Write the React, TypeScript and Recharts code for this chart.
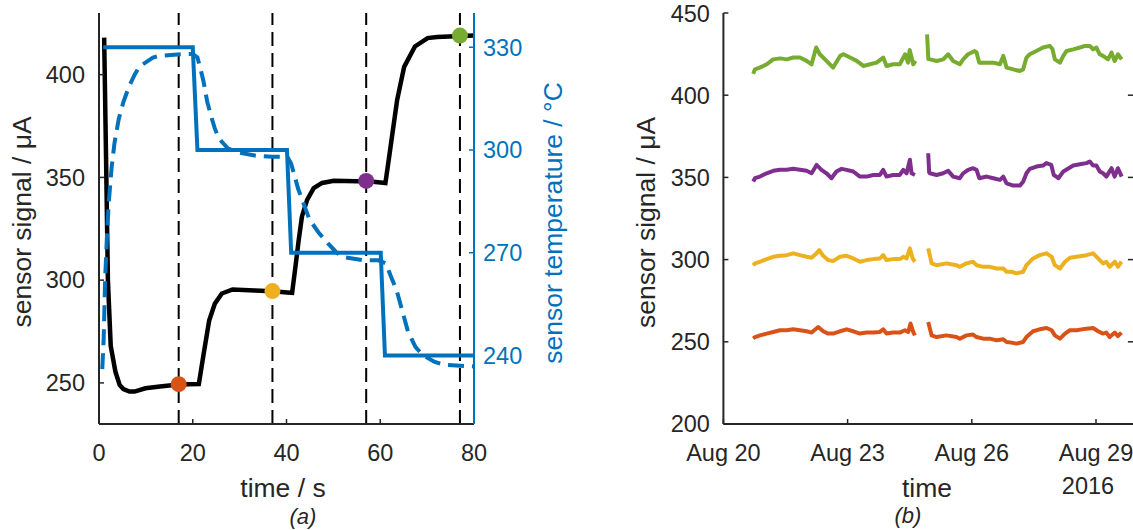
import React from 'react';
import { ComposedChart, Line, XAxis, YAxis, ReferenceLine, Scatter } from 'recharts';

const FONT = '"Liberation Sans", Arial, Helvetica, sans-serif';
const AX = '#262626';
const BLUE = '#0072BD';

// ---------- Panel (a) ----------
const timeTicks = [0, 20, 40, 60, 80];
const timeTopTicks = [20, 40, 60];
const signalTicks = [250, 300, 350, 400];
const tempTicks = [240, 270, 300, 330];

const signalTime = [1.1, 1.5, 1.9, 2.5, 3.5, 4.4, 5.2, 6.5, 7.6, 9.9, 13, 16, 19, 21.3, 22.3, 23.5, 24.7, 26.2, 28.5, 33.2, 37, 40.2, 41.2, 41.9, 42.6, 43.3, 44.4, 45.8, 47.6, 50.1, 55.1, 58, 61.1, 61.8, 62.6, 63.6, 65.1, 67.4, 70.1, 72.1, 76, 79.9];
const signalValues = [418, 360, 300, 268, 255.5, 249, 247, 245.8, 245.8, 247.4, 248.3, 249, 249.4, 249.5, 263.8, 280.3, 288.5, 293.5, 295.5, 295, 294.6, 294, 293.8, 306.4, 319.4, 331, 339.1, 344.8, 347.3, 348.4, 348.1, 348, 347.3, 358.4, 371.4, 387.6, 403.8, 413.7, 417.8, 418.3, 418.7, 419];

const setpointTime = [0.9, 20, 21, 40.1, 41, 60.1, 61, 80];
const setpointTemp = [330, 330, 300, 300, 270, 270, 240, 240];

const measuredTime = [0.7, 1.0, 1.3, 1.7, 2.1, 2.7, 3.3, 4.2, 5.2, 6.4, 7.6, 8.7, 9.9, 11.5, 13, 17.7, 20, 21, 21.6, 22.3, 23.1, 24, 24.7, 25.4, 26.2, 27.5, 29.3, 33.2, 37, 40.2, 41, 42.5, 44.9, 46.8, 48.8, 50.5, 51.9, 56.5, 59.6, 61.2, 62.3, 63.5, 65.9, 67.5, 69, 71.5, 73.6, 79.9];
const measuredTemp = [236, 245, 262, 275, 285, 295, 302, 309, 314, 318.5, 322, 324.5, 325.5, 327, 327.5, 328, 328, 327, 324, 320, 314, 309.5, 306.3, 304, 302.4, 300.5, 299.4, 298.4, 298, 298, 296, 288.6, 279.7, 276, 272.8, 270.3, 268.8, 267.8, 267.8, 266.9, 263, 259, 247.1, 242.5, 240.2, 238.2, 237.3, 236.8];

const markerTimes = [17, 37, 57, 77];
const markerSignals = [249.4, 294.7, 348.3, 419];
const markerColors = ['#D95319', '#EDB120', '#7E2F8E', '#77AC30'];

// ---------- Panel (b) ----------
const dayTicks = [0, 3, 6, 9];
const dayTickLabels = ['Aug 20', 'Aug 23', 'Aug 26', 'Aug 29'];
const dayTopTicks = [3, 6, 9];
const longSignalTicks = [200, 250, 300, 350, 400, 450];
const longSignalRightTicks = [250, 300, 350, 400];

type Pt = [number, number | null];

const greenTrace: Pt[] = [[0.72, 413], [0.76, 415.7], [0.88, 416.8], [1.05, 418.8], [1.2, 421.8], [1.37, 422.4], [1.53, 421.8], [1.69, 422.9], [1.85, 422.9], [2.01, 420.9], [2.13, 418.8], [2.24, 429], [2.33, 424.9], [2.49, 420.9], [2.65, 416.8], [2.82, 423.9], [2.9, 424.9], [3.06, 422.9], [3.22, 420.9], [3.38, 417.8], [3.54, 418.8], [3.7, 419.8], [3.86, 422.9], [3.94, 417.8], [4.1, 418.8], [4.26, 418.8], [4.39, 424.9], [4.46, 419.8], [4.5, 427.5], [4.585, 418.8], [4.64, 420.9], [4.78, null], [4.92, 437], [4.95, 422], [4.99, 421.8], [5.15, 420.8], [5.31, 421.8], [5.43, 424.9], [5.55, 420.8], [5.71, 418.8], [5.79, 421.8], [5.91, 424.9], [6.07, 426.9], [6.115, 425.9], [6.18, 419.8], [6.36, 419.8], [6.52, 419.8], [6.68, 418.8], [6.76, 423.9], [6.84, 416.8], [7.0, 415.7], [7.16, 414.7], [7.24, 415.7], [7.32, 422.9], [7.4, 424.9], [7.56, 426.9], [7.72, 429], [7.885, 430], [7.95, 427.9], [8.006, 421.8], [8.13, 419.8], [8.21, 423.9], [8.29, 426.9], [8.45, 427.9], [8.61, 429], [8.73, 430], [8.85, 430], [8.93, 427.9], [9.01, 429], [9.09, 424.9], [9.17, 423.9], [9.29, 421.8], [9.375, 425.9], [9.45, 420.8], [9.53, 424.9], [9.62, 421.8]];

const purpleTrace: Pt[] = [[0.72, 347.5], [0.763, 349.5], [0.884, 350.5], [1.045, 352.5], [1.205, 354], [1.366, 354.6], [1.528, 354.6], [1.688, 355.2], [1.849, 354.6], [2.01, 354], [2.13, 352.5], [2.25, 357.6], [2.37, 354.6], [2.49, 352.5], [2.61, 349.5], [2.73, 353.6], [2.855, 355.2], [2.976, 354.6], [3.137, 353.6], [3.298, 350.5], [3.459, 350.5], [3.62, 351.5], [3.78, 351.5], [3.86, 354.6], [3.94, 350.5], [4.1, 351.5], [4.26, 351.5], [4.345, 354.6], [4.425, 352.5], [4.505, 360.7], [4.545, 352.5], [4.626, 351.5], [4.78, null], [4.947, 364.7], [4.97, 353], [4.988, 352.5], [5.149, 351.5], [5.31, 352.5], [5.43, 354], [5.55, 350.5], [5.71, 349.5], [5.79, 352.5], [5.91, 354.6], [6.03, 355.6], [6.115, 354.6], [6.18, 349.5], [6.36, 350.5], [6.52, 349.5], [6.68, 348.5], [6.76, 350.5], [6.84, 346.4], [7.0, 345], [7.16, 345], [7.24, 347.4], [7.32, 352.5], [7.4, 355.2], [7.56, 356.6], [7.72, 357.2], [7.8, 358.7], [7.92, 357.6], [7.98, 351.5], [8.09, 349.5], [8.21, 353.6], [8.29, 354.8], [8.45, 357.2], [8.61, 358], [8.77, 358.7], [8.85, 359.7], [8.93, 357.2], [9.01, 357.2], [9.09, 353.6], [9.17, 352.5], [9.25, 350.5], [9.375, 355.6], [9.45, 350.5], [9.53, 355.6], [9.62, 350.5]];

const yellowTrace: Pt[] = [[0.72, 296.5], [0.763, 297.7], [0.884, 298.7], [1.045, 300.3], [1.205, 301.7], [1.366, 302.3], [1.528, 302.7], [1.688, 303.8], [1.849, 302.7], [2.01, 301.7], [2.13, 301.1], [2.25, 303.8], [2.316, 305.8], [2.41, 302.3], [2.53, 299.7], [2.65, 299.1], [2.815, 301.7], [2.976, 302.3], [3.137, 300.7], [3.298, 298.7], [3.459, 299.7], [3.62, 300.3], [3.78, 300.7], [3.86, 302.7], [3.94, 299.7], [4.1, 300.3], [4.26, 300.3], [4.345, 301.7], [4.425, 300.7], [4.505, 306.8], [4.57, 300.7], [4.626, 298.7], [4.78, null], [4.947, 306.8], [5.03, 297.7], [5.15, 296.6], [5.39, 297.7], [5.63, 296.6], [5.71, 295.6], [5.87, 297.7], [6.03, 298.7], [6.115, 296.6], [6.275, 295.6], [6.436, 295.6], [6.6, 294.6], [6.76, 294.6], [6.84, 292.6], [6.96, 292.6], [7.08, 291.6], [7.24, 292.6], [7.32, 296.6], [7.48, 300.7], [7.64, 302.7], [7.805, 303.8], [7.93, 301.7], [8.006, 296.6], [8.13, 294.6], [8.25, 298.7], [8.37, 301.1], [8.53, 301.7], [8.77, 302.7], [8.93, 303.8], [9.05, 300.7], [9.17, 297.7], [9.25, 298.7], [9.33, 295.6], [9.455, 298.7], [9.53, 295.6], [9.615, 298.7]];

const orangeTrace: Pt[] = [[0.72, 252], [0.763, 252.9], [0.884, 253.9], [1.045, 255], [1.205, 256], [1.366, 257], [1.528, 257], [1.688, 257.6], [1.849, 257], [2.01, 256.4], [2.13, 255.6], [2.29, 259], [2.41, 256.4], [2.53, 255], [2.65, 255], [2.815, 256.4], [2.976, 257.6], [3.137, 256.4], [3.298, 255], [3.459, 255.6], [3.62, 255.6], [3.78, 256], [3.86, 257.6], [3.94, 255], [4.1, 255.6], [4.26, 255.6], [4.385, 257], [4.465, 256], [4.52, 261.1], [4.585, 256], [4.626, 253.9], [4.78, null], [4.947, 262.1], [5.03, 253.9], [5.15, 252.9], [5.39, 253.9], [5.63, 252.9], [5.71, 251.9], [5.87, 253.9], [6.03, 254.4], [6.115, 252.9], [6.275, 251.9], [6.436, 251.9], [6.6, 250.9], [6.76, 251.5], [6.84, 249.9], [6.96, 249.5], [7.08, 248.9], [7.24, 249.9], [7.32, 252.9], [7.48, 256.4], [7.64, 257.6], [7.805, 258.4], [7.93, 257], [8.006, 253.9], [8.13, 251.9], [8.25, 255], [8.37, 257], [8.53, 257], [8.77, 258], [8.93, 258.4], [9.05, 256.4], [9.17, 255], [9.25, 255.6], [9.33, 252.9], [9.455, 255.6], [9.53, 253.5], [9.615, 255.6]];

const longSeries = [
  { name: 'green', color: '#77AC30', trace: greenTrace },
  { name: 'purple', color: '#7E2F8E', trace: purpleTrace },
  { name: 'yellow', color: '#EDB120', trace: yellowTrace },
  { name: 'orange', color: '#D95319', trace: orangeTrace },
];

// ---------- helpers ----------
const rows = (xs: number[], ys: number[]) => xs.map((x, i) => ({ t: x, v: ys[i] }));
const signalRows = rows(signalTime, signalValues);
const setpointRows = rows(setpointTime, setpointTemp);
const measuredRows = rows(measuredTime, measuredTemp);
const markerRows = markerTimes.map((t, i) => ({ t, v: markerSignals[i], color: markerColors[i] }));

const tickFont = { fontSize: 23.5, fontFamily: FONT, fill: AX };
const labelStyle: React.CSSProperties = { fontSize: 26.5, fontFamily: FONT };
const noLabel = () => '';

const MarkerDot = (p: any) => <circle cx={p.cx} cy={p.cy} r={8} fill={p.payload.color} />;

export default function App() {
  return (
    <div style={{ position: 'fixed', left: 0, top: 0, width: 1133, height: 530, overflow: 'hidden', background: '#fff' }}>
      <div style={{ position: 'absolute', left: 0, top: 0 }}>
        <ComposedChart width={580} height={530} margin={{ top: 13, right: 0, bottom: 0, left: 0 }}>
          <XAxis xAxisId="b" dataKey="t" type="number" domain={[0, 80]} ticks={timeTicks} allowDataOverflow
            height={106} tickSize={-5} tickMargin={25} tick={tickFont}
            axisLine={{ stroke: AX, strokeWidth: 2 }} tickLine={{ stroke: AX, strokeWidth: 1.5 }} />
          <XAxis xAxisId="top" dataKey="t" type="number" orientation="top" domain={[0, 80]} ticks={timeTopTicks} allowDataOverflow
            height={0} tickSize={-5} tick={tickFont} tickFormatter={noLabel}
            axisLine={{ stroke: AX, strokeWidth: 2 }} tickLine={{ stroke: AX, strokeWidth: 1.5 }} />
          <YAxis yAxisId="left" type="number" domain={[230, 430]} ticks={signalTicks} allowDataOverflow
            width={99} tickSize={-5} tickMargin={19} tick={tickFont}
            axisLine={{ stroke: AX, strokeWidth: 2 }} tickLine={{ stroke: AX, strokeWidth: 1.5 }} />
          <YAxis yAxisId="right" orientation="right" type="number" domain={[220, 340]} ticks={tempTicks} allowDataOverflow
            width={106} tickSize={-5} tickMargin={14} tick={{ ...tickFont, fill: BLUE }}
            axisLine={{ stroke: BLUE, strokeWidth: 2 }} tickLine={{ stroke: BLUE, strokeWidth: 1.5 }} />
          {markerTimes.map((t) => (
            <ReferenceLine key={t} x={t} xAxisId="b" yAxisId="left" stroke="#000" strokeWidth={2} strokeDasharray="14 7" />
          ))}
          <Line xAxisId="b" yAxisId="left" data={signalRows} dataKey="v" type="linear" stroke="#000" strokeWidth={4.5}
            dot={false} activeDot={false} isAnimationActive={false} />
          <Line xAxisId="b" yAxisId="right" data={measuredRows} dataKey="v" type="linear" stroke={BLUE} strokeWidth={4}
            strokeDasharray="16 8" dot={false} activeDot={false} isAnimationActive={false} />
          <Line xAxisId="b" yAxisId="right" data={setpointRows} dataKey="v" type="linear" stroke={BLUE} strokeWidth={4}
            dot={false} activeDot={false} isAnimationActive={false} />
          <Scatter xAxisId="b" yAxisId="left" data={markerRows} dataKey="v" shape={MarkerDot} isAnimationActive={false} />
        </ComposedChart>
      </div>
      <div style={{ position: 'absolute', left: 580, top: 0 }}>
        <ComposedChart width={600} height={530} margin={{ top: 13, right: 0, bottom: 0, left: 0 }}>
          <XAxis xAxisId="b" dataKey="d" type="number" domain={[0, 10]} ticks={dayTicks} allowDataOverflow
            tickFormatter={(v: number) => dayTickLabels[dayTicks.indexOf(v)]}
            height={106} tickSize={-5} tickMargin={25} tick={tickFont}
            axisLine={{ stroke: AX, strokeWidth: 2 }} tickLine={{ stroke: AX, strokeWidth: 1.5 }} />
          <XAxis xAxisId="top" dataKey="d" type="number" orientation="top" domain={[0, 10]} ticks={dayTopTicks} allowDataOverflow
            height={0} tickSize={-5} tick={tickFont} tickFormatter={noLabel}
            axisLine={{ stroke: AX, strokeWidth: 2 }} tickLine={{ stroke: AX, strokeWidth: 1.5 }} />
          <YAxis yAxisId="l" type="number" domain={[200, 450]} ticks={longSignalTicks} allowDataOverflow
            width={143.4} tickSize={-5} tickMargin={18.5} tick={tickFont}
            axisLine={{ stroke: AX, strokeWidth: 2 }} tickLine={{ stroke: AX, strokeWidth: 1.5 }} />
          <YAxis yAxisId="r" orientation="right" type="number" domain={[200, 450]} ticks={longSignalRightTicks} allowDataOverflow
            width={42.6} tickSize={-9.5} tick={tickFont} tickFormatter={noLabel}
            axisLine={{ stroke: AX, strokeWidth: 2 }} tickLine={{ stroke: AX, strokeWidth: 1.5 }} />
          {longSeries.map((s) => (
            <Line key={s.name} xAxisId="b" yAxisId="l" data={s.trace.map(([d, v]) => ({ d, v }))} dataKey="v" type="linear"
              stroke={s.color} strokeWidth={4} strokeLinejoin="round" dot={false} activeDot={false} isAnimationActive={false} />
          ))}
        </ComposedChart>
      </div>
      <svg width={1133} height={530} style={{ position: 'absolute', left: 0, top: 0, pointerEvents: 'none' }}>
        <text transform="translate(31,222) rotate(-90)" textAnchor="middle" fill={AX} style={labelStyle}>sensor signal / μA</text>
        <text transform="translate(561.5,223) rotate(-90)" textAnchor="middle" fill={BLUE} style={labelStyle}>sensor temperature / °C</text>
        <text x={283} y={497} textAnchor="middle" fill={AX} style={labelStyle}>time / s</text>
        <text x={303} y={524} textAnchor="middle" fill={AX} style={{ fontSize: 22, fontFamily: FONT, fontStyle: 'italic' }}>(a)</text>
        <text transform="translate(655,222.4) rotate(-90)" textAnchor="middle" fill={AX} style={labelStyle}>sensor signal / μA</text>
        <text x={927} y={497} textAnchor="middle" fill={AX} style={labelStyle}>time</text>
        <text x={1088} y={494} textAnchor="middle" fill={AX} style={{ fontSize: 23.5, fontFamily: FONT }}>2016</text>
        <text x={908} y={523} textAnchor="middle" fill={AX} style={{ fontSize: 22, fontFamily: FONT, fontStyle: 'italic' }}>(b)</text>
      </svg>
    </div>
  );
}
